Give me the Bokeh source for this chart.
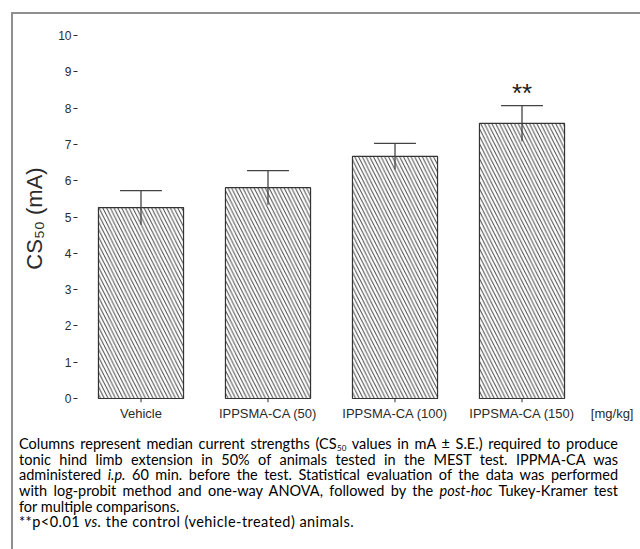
import numpy as np
from bokeh.plotting import figure
from bokeh.models import FixedTicker, Div
from bokeh.layouts import column
from bokeh.core.properties import value
from bokeh.embed import file_html
from bokeh.resources import INLINE

# ---- data ----
categories = ["Vehicle", "IPPSMA-CA (50)", "IPPSMA-CA (100)", "IPPSMA-CA (150)"]
cs50_means = [5.26, 5.81, 6.67, 7.58]
cs50_se = [0.47, 0.47, 0.36, 0.49]
significance = ["", "", "", "**"]
y_ticks = [0, 1, 2, 3, 4, 5, 6, 7, 8, 9, 10]
unit_label = "[mg/kg]"
unit_label_pos = 4.71
y_axis_label = "CS\u2085\u2080 (mA)"

FONT = "Liberation Sans"
INK = "#2b2b2b"

xs = np.arange(1, len(categories) + 1)
means = np.array(cs50_means)
se = np.array(cs50_se)

p = figure(width=640, height=434, output_backend="svg", toolbar_location=None,
           x_range=(0.5, 4.933), y_range=(-0.11, 10.03),
           min_border_left=77, min_border_right=0, min_border_top=34, min_border_bottom=32)
p.background_fill_color = None
p.border_fill_color = None
p.outline_line_color = None
p.grid.grid_line_color = None

# bars
p.vbar(x=xs, top=means, bottom=0, width=0.67, fill_color="white",
       line_color="#333333", line_width=1.2,
       hatch_pattern="left_diagonal_line", hatch_color="#444444",
       hatch_scale=7.5, hatch_weight=1)

# small category tick marks under the bars
p.segment(x0=xs, y0=np.zeros(len(xs)), x1=xs, y1=np.full(len(xs), -0.11),
          line_color=INK, line_width=1)

# error bars (upper cap only)
p.segment(x0=xs, y0=means - se, x1=xs, y1=means + se, line_color="#444444", line_width=1.3)
p.segment(x0=xs - 0.165, y0=means + se, x1=xs + 0.165, y1=means + se,
          line_color="#444444", line_width=1.3)

# significance stars
p.text(x=xs, y=means + se + 0.36, text=significance, text_align="center",
       text_baseline="alphabetic", text_font=value(FONT), text_font_size="26px",
       text_color="#222222")

# y axis
p.yaxis.ticker = FixedTicker(ticks=y_ticks)
p.yaxis.axis_line_color = None
p.yaxis.major_tick_in = 0
p.yaxis.major_tick_out = 4
p.yaxis.major_tick_line_color = INK
p.yaxis.minor_tick_line_color = None
p.yaxis.major_label_standoff = 2
p.yaxis.major_label_text_font = FONT
p.yaxis.major_label_text_font_size = "12px"
p.yaxis.major_label_text_color = INK
p.yaxis.axis_label = y_axis_label
p.yaxis.axis_label_text_font = FONT
p.yaxis.axis_label_text_font_size = "22px"
p.yaxis.axis_label_text_font_style = "normal"
p.yaxis.axis_label_text_color = INK
p.yaxis.axis_label_standoff = 8

# x axis
p.xaxis.ticker = FixedTicker(ticks=list(xs) + [unit_label_pos])
overrides = {int(x): c for x, c in zip(xs, categories)}
overrides[unit_label_pos] = unit_label
p.xaxis.major_label_overrides = overrides
p.xaxis.axis_line_color = None
p.xaxis.major_tick_in = 0
p.xaxis.major_tick_out = 0
p.xaxis.major_tick_line_color = None
p.xaxis.minor_tick_line_color = None
p.xaxis.major_label_standoff = 3
p.xaxis.major_label_text_font = FONT
p.xaxis.major_label_text_font_size = "13px"
p.xaxis.major_label_text_color = INK

J = "text-align:justify;text-align-last:justify;white-space:nowrap;"
SUB = ('<span style="display:inline-block;font-size:8px;line-height:8px;'
       'vertical-align:-2px;margin-left:0.5px">50</span>')
caption = (
    '<div style="font-family:Lato;font-size:14.5px;line-height:15.7px;color:#000;'
    'width:618px;padding-left:19px;margin-top:1.5px;">'
    f'<div style="{J}">Columns represent median current strengths (CS{SUB} values in mA&nbsp;±&nbsp;S.E.) required to produce</div>'
    f'<div style="{J}">tonic hind limb extension in 50% of animals tested in the MEST test. IPPMA-CA was</div>'
    f'<div style="{J}">administered <i>i.p.</i> 60 min. before the test. Statistical evaluation of the data was performed</div>'
    f'<div style="{J}">with log-probit method and one-way ANOVA, followed by the <i>post-hoc</i> Tukey-Kramer test</div>'
    '<div>for multiple comparisons.</div>'
    '<div style="letter-spacing:0.45px">**p&lt;0.01 <i>vs.</i> the control (vehicle-treated) animals.</div>'
    '</div>'
)
div = Div(text=caption, width=640, height=115, margin=(0, 0, 0, 0))

bg = ("linear-gradient(#8f8f8f,#8f8f8f) 11px 12px / 2px calc(100% - 12px) no-repeat, "
      "linear-gradient(#8f8f8f,#8f8f8f) 11px 12px / calc(100% - 11px) 2px no-repeat")
layout = column(p, div, styles={"background": bg})

open("out.html", "w").write(file_html(layout, INLINE))
